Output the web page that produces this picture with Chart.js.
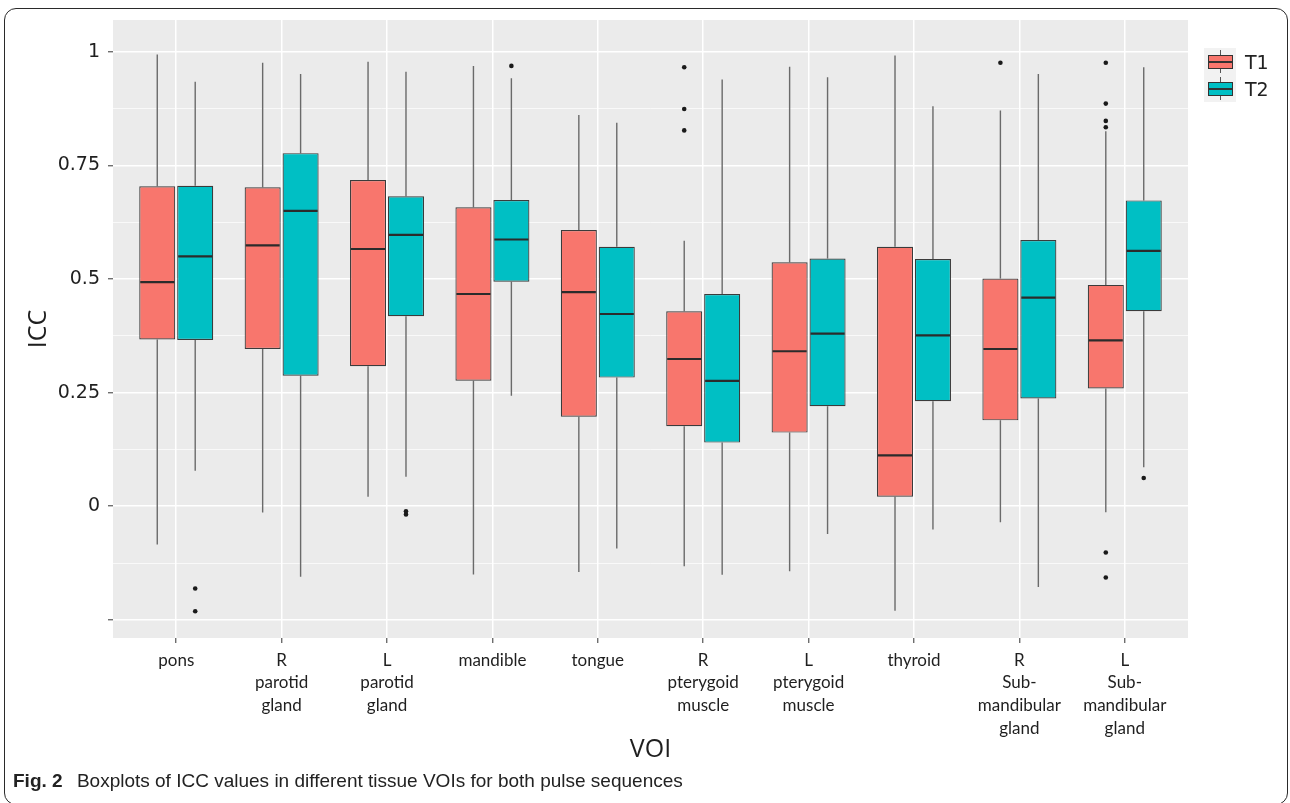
<!DOCTYPE html>
<html>
<head>
<meta charset="utf-8">
<title>ICC boxplots by VOI</title>
<script src="https://cdn.jsdelivr.net/npm/chart.js@4.4.1/dist/chart.umd.min.js"></script>
<style>
  html, body { margin: 0; padding: 0; background: #ffffff; }
  #wrap { position: relative; width: 1290px; height: 803px; overflow: hidden; }
  #plot { position: absolute; left: 0; top: 0; }
  #frame {
    position: absolute; left: 4px; top: 8px; width: 1284px; height: 797px;
    border: 1.3px solid #2a2a2a; border-radius: 12px; box-sizing: border-box;
    pointer-events: none;
  }
  #legend { position: absolute; left: 1204px; top: 48px; }
  .row { position: relative; height: 27px; width: 80px; }
  .key { position: absolute; left: 0; top: 0; width: 32px; height: 27px; background: #f2f2f2; }
  .key .wh { position: absolute; left: 15.5px; top: 2px; width: 1.2px; height: 23px; background: #555; }
  .key .bx { position: absolute; left: 4px; top: 7px; width: 25px; height: 14px; border: 1px solid #333; box-sizing: border-box; }
  .key .md { position: absolute; left: 4px; top: 13px; width: 25px; height: 2px; background: #333; }
  .row span { position: absolute; left: 41px; top: 1px; font: 19px "DejaVu Sans", sans-serif; color: #222; line-height: 27px; }
  #caption {
    position: absolute; left: 13px; top: 770px; white-space: nowrap;
    font: 19px "Liberation Sans", Arial, sans-serif; color: #222;
  }
  #caption b { margin-right: 9px; }
</style>
</head>
<body>
<div id="wrap">
  <canvas id="plot" width="1290" height="803"></canvas>
  <div id="legend">
    <div class="row"><div class="key"><div class="wh"></div><div class="bx" style="background:#F8766D"></div><div class="md"></div></div><span>T1</span></div>
    <div class="row"><div class="key"><div class="wh"></div><div class="bx" style="background:#00BFC4"></div><div class="md"></div></div><span>T2</span></div>
  </div>
  <div id="caption"><b>Fig. 2</b> Boxplots of ICC values in different tissue VOIs for both pulse sequences</div>
  <div id="frame"></div>
</div>
<script>
// Tissue VOIs along the x axis (multi-line labels as arrays;
// a zero-width non-joiner keeps "ti" from forming a ligature)
const categories = [
  'pons',
  ['R', 'paro\u200Ctid', 'gland'],
  ['L', 'paro\u200Ctid', 'gland'],
  'mandible',
  'tongue',
  ['R', 'pterygoid', 'muscle'],
  ['L', 'pterygoid', 'muscle'],
  'thyroid',
  ['R', 'Sub-', 'mandibular', 'gland'],
  ['L', 'Sub-', 'mandibular', 'gland']
];

// T1 sequence: five-number summaries per VOI
const t1Low    = [-0.084, -0.014, 0.021, -0.150, -0.145, -0.132, -0.143, -0.230, -0.035, -0.013];
const t1Q1     = [0.367, 0.346, 0.308, 0.276, 0.197, 0.176, 0.162, 0.021, 0.189, 0.259];
const t1Median = [0.493, 0.574, 0.566, 0.467, 0.471, 0.324, 0.341, 0.112, 0.346, 0.365];
const t1Q3     = [0.704, 0.702, 0.718, 0.658, 0.608, 0.429, 0.537, 0.571, 0.501, 0.487];
const t1High   = [0.994, 0.976, 0.978, 0.969, 0.861, 0.584, 0.967, 0.992, 0.871, 0.825];
const t1Outliers = [[], [], [], [], [], [0.966, 0.874, 0.827], [], [], [0.976],
                    [0.976, 0.886, 0.848, 0.834, -0.102, -0.157]];

// T2 sequence: five-number summaries per VOI
const t2Low    = [0.078, -0.155, 0.065, 0.243, -0.093, -0.151, -0.061, -0.051, -0.178, 0.086];
const t2Q1     = [0.366, 0.287, 0.418, 0.494, 0.283, 0.140, 0.220, 0.231, 0.237, 0.429];
const t2Median = [0.550, 0.650, 0.597, 0.587, 0.423, 0.276, 0.380, 0.376, 0.459, 0.562];
const t2Q3     = [0.705, 0.777, 0.682, 0.674, 0.571, 0.467, 0.545, 0.544, 0.586, 0.673];
const t2High   = [0.934, 0.951, 0.956, 0.942, 0.844, 0.939, 0.944, 0.880, 0.951, 0.966];
const t2Outliers = [[-0.181, -0.231], [], [-0.011, -0.018], [0.969], [], [], [], [], [], [0.062]];

// Y axis labels at the major ticks
const yTickLabels = { '1': '1', '0.75': '0.75', '0.5': '0.5', '0.25': '0.25', '0': '0' };

const series = [
  { label: 'T1', color: '#F8766D', low: t1Low, q1: t1Q1, median: t1Median, q3: t1Q3, high: t1High, outliers: t1Outliers },
  { label: 'T2', color: '#00BFC4', low: t2Low, q1: t2Q1, median: t2Median, q3: t2Q3, high: t2High, outliers: t2Outliers }
];

const isMajor = v => Math.abs(v * 4 - Math.round(v * 4)) < 1e-6;

// Panel background, whiskers, medians and outlier points
const boxplotParts = {
  id: 'boxplotParts',
  beforeDraw(chart) {
    const { ctx, chartArea: a } = chart;
    ctx.save();
    ctx.fillStyle = '#EBEBEB';
    ctx.fillRect(a.left, a.top, a.right - a.left, a.bottom - a.top);
    ctx.restore();
  },
  beforeDatasetsDraw(chart) {
    const { ctx } = chart;
    const y = chart.scales.y;
    ctx.save();
    ctx.strokeStyle = '#6a6a6a';
    ctx.lineWidth = 1.4;
    series.forEach((s, d) => {
      chart.getDatasetMeta(d).data.forEach((bar, i) => {
        const { x } = bar.getProps(['x'], true);
        ctx.beginPath();
        ctx.moveTo(x, y.getPixelForValue(s.high[i]));
        ctx.lineTo(x, y.getPixelForValue(s.q3[i]));
        ctx.moveTo(x, y.getPixelForValue(s.q1[i]));
        ctx.lineTo(x, y.getPixelForValue(s.low[i]));
        ctx.stroke();
      });
    });
    ctx.restore();
  },
  afterDatasetsDraw(chart) {
    const { ctx } = chart;
    const y = chart.scales.y;
    ctx.save();
    series.forEach((s, d) => {
      chart.getDatasetMeta(d).data.forEach((bar, i) => {
        const { x, width } = bar.getProps(['x', 'width'], true);
        const ym = y.getPixelForValue(s.median[i]);
        ctx.strokeStyle = '#2b2b2b';
        ctx.lineWidth = 2.2;
        ctx.beginPath();
        ctx.moveTo(x - width / 2 + 1, ym);
        ctx.lineTo(x + width / 2 - 1, ym);
        ctx.stroke();
        ctx.fillStyle = '#1a1a1a';
        s.outliers[i].forEach(v => {
          ctx.beginPath();
          ctx.arc(x, y.getPixelForValue(v), 2.3, 0, Math.PI * 2);
          ctx.fill();
        });
      });
    });
    ctx.restore();
  }
};

const datasets = series.map(s => ({
  label: s.label,
  data: categories.map((c, i) => ({ x: i + 1, y: [s.q1[i], s.q3[i]] })),
  backgroundColor: s.color,
  borderColor: '#3b3b3b',
  borderWidth: 1.2,
  borderSkipped: false,
  categoryPercentage: 0.72,
  barPercentage: 0.95
}));

new Chart(document.getElementById('plot'), {
  type: 'bar',
  data: { datasets },
  plugins: [boxplotParts],
  options: {
    responsive: false,
    animation: false,
    layout: { padding: { left: 0, right: 102, top: 20, bottom: 38 } },
    plugins: { legend: { display: false }, tooltip: { enabled: false } },
    scales: {
      x: {
        type: 'linear',
        min: 0.4,
        max: 10.6,
        offset: false,
        border: { display: false },
        grid: { offset: false, color: '#ffffff', lineWidth: 1.5, tickLength: 5, tickColor: '#555555', tickWidth: 1.2 },
        ticks: {
          stepSize: 1, includeBounds: false, autoSkip: false, maxRotation: 0, minRotation: 0,
          padding: 6, color: '#1f1f1f',
          font: { family: 'Lato', size: 17, lineHeight: 1.33 },
          callback: v => categories[Math.round(v) - 1] ?? ''
        },
        title: {
          display: true, text: 'VOI', color: '#1f1f1f',
          font: { family: 'Open Sans', size: 25 },
          padding: { top: 0, bottom: 0 }
        },
        afterFit(scale) { scale.height = 127; }
      },
      y: {
        min: -0.29,
        max: 1.07,
        stacked: false,
        border: { display: false },
        grid: {
          color: '#ffffff',
          lineWidth: c => (isMajor(c.tick.value) ? 1.5 : 0.7),
          tickLength: 5,
          tickColor: c => (isMajor(c.tick.value) ? '#555555' : 'rgba(0,0,0,0)'),
          tickWidth: 1.2
        },
        ticks: {
          stepSize: 0.125, includeBounds: false, autoSkip: false,
          padding: 8, color: '#1f1f1f',
          font: { family: 'DejaVu Sans', size: 19 },
          callback: v => yTickLabels[String(Math.round(v * 1000) / 1000)] ?? ''
        },
        title: {
          display: true, text: 'ICC', color: '#1f1f1f',
          font: { family: 'Open Sans', size: 25 },
          padding: { top: 24, bottom: 0 }
        },
        afterFit(scale) { scale.width = 113; }
      }
    }
  }
});
</script>
</body>
</html>
